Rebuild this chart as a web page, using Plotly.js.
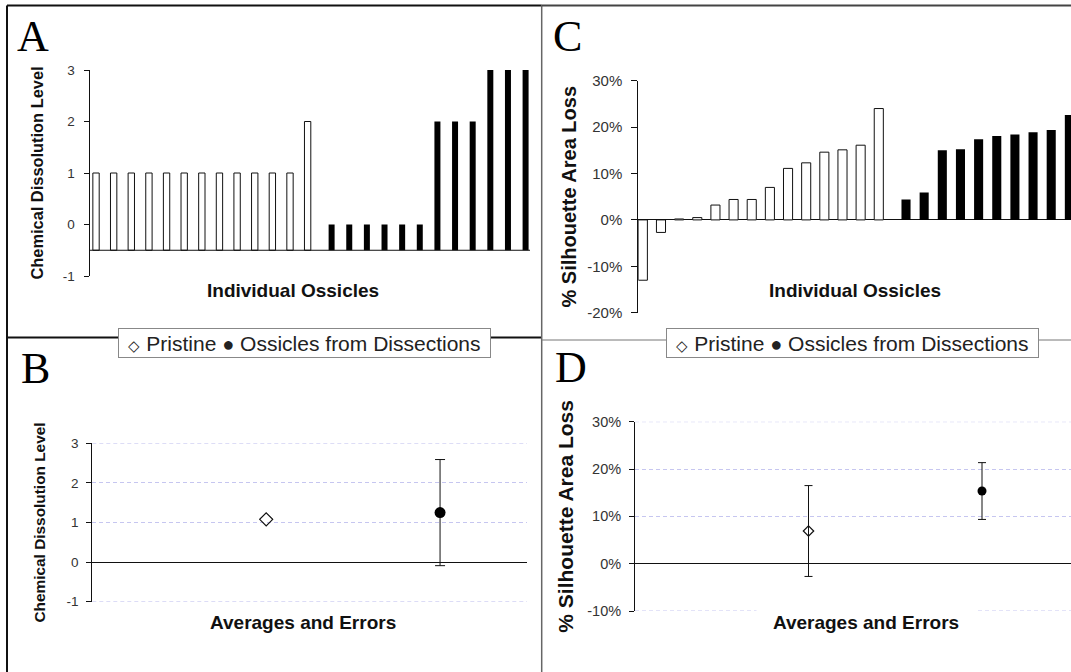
<!DOCTYPE html>
<html><head><meta charset="utf-8">
<script src="https://cdn.plot.ly/plotly-3.0.1.min.js"></script>
<style>html,body{margin:0;padding:0;background:#fff;overflow:hidden}#chart{width:1071px;height:672px}</style>
</head><body><div id="chart"></div>
<script>
// ---------- data ----------
const groupNames = ['Pristine', 'Ossicles from Dissections'];
const pristineLevels = [1,1,1,1,1,1,1,1,1,1,1,1,2];
const dissectionLevels = [0,0,0,0,0,0,2,2,2,3,3,3];
const pristineLoss = [-13.0,-2.7,0.2,0.5,3.2,4.4,4.4,7.0,11.1,12.3,14.6,15.1,16.1,24.0];
const dissectionLoss = [4.4,5.9,15.0,15.2,17.4,18.1,18.4,18.9,19.4,22.6];
const avgPosition = [1, 2];
const avgLevel = [1.08, 1.25];
const errLevel = [0, 1.34];
const avgLoss = [6.9, 15.35];
const errLoss = [9.6, 6.0];
const levelTicks = [-1, 0, 1, 2, 3];
const lossTicksC = [-20, -10, 0, 10, 20, 30];
const lossTicksD = [-10, 0, 10, 20, 30];
const LEVEL_BASELINE = -0.5;

// ---------- helpers ----------
const W = 1071, H = 672;
const px = v => v / W;
const py = v => 1 - v / H;
const SANS = 'Liberation Sans, Arial, Helvetica, sans-serif';
const SERIF = 'Liberation Serif, Times New Roman, serif';
const GRID = '#c6c6f0';
const GRID_DASH = '4px,3px';

const idxA_p = pristineLevels.map((_, i) => i + 1);
const idxA_d = dissectionLevels.map((_, i) => pristineLevels.length + i + 1);
const idxC_p = pristineLoss.map((_, i) => i + 1);
const idxC_d = dissectionLoss.map((_, i) => pristineLoss.length + i + 1);

const openBar = {color: '#ffffff', line: {color: '#111', width: 1}};
const solidBar = {color: '#000000', line: {color: '#000', width: 0}};

const traces = [
  // A
  {type: 'bar', name: groupNames[0], x: idxA_p, y: pristineLevels.map(v => v - LEVEL_BASELINE),
   base: LEVEL_BASELINE, width: 0.36, offset: -0.36, marker: openBar, xaxis: 'x', yaxis: 'y', showlegend: false},
  {type: 'bar', name: groupNames[1], x: idxA_d, y: dissectionLevels.map(v => v - LEVEL_BASELINE),
   base: LEVEL_BASELINE, width: 0.34, offset: 0.01, marker: solidBar, xaxis: 'x', yaxis: 'y', showlegend: false},
  // C
  {type: 'bar', name: groupNames[0], x: idxC_p, y: pristineLoss, width: 0.5, offset: -0.5,
   marker: openBar, xaxis: 'x2', yaxis: 'y2', showlegend: false},
  {type: 'bar', name: groupNames[1], x: idxC_d, y: dissectionLoss, width: 0.5, offset: 0,
   marker: solidBar, xaxis: 'x2', yaxis: 'y2', showlegend: false},
  // B
  {type: 'scatter', mode: 'markers', name: groupNames[0], x: [avgPosition[0]], y: [avgLevel[0]],
   marker: {symbol: 'diamond-open', size: 10, color: '#111', line: {width: 1.2}},
   xaxis: 'x3', yaxis: 'y3', showlegend: false},
  {type: 'scatter', mode: 'markers', name: groupNames[1], x: [avgPosition[1]], y: [avgLevel[1]],
   error_y: {type: 'data', array: [errLevel[1]], color: '#111', thickness: 1, width: 5},
   marker: {symbol: 'circle', size: 11, color: '#000'},
   xaxis: 'x3', yaxis: 'y3', showlegend: false},
  // D
  {type: 'scatter', mode: 'markers', name: groupNames[0], x: [avgPosition[0]], y: [avgLoss[0]],
   error_y: {type: 'data', array: [errLoss[0]], color: '#111', thickness: 1, width: 4},
   marker: {symbol: 'diamond-open', size: 8, color: '#111', line: {width: 1.2}},
   xaxis: 'x4', yaxis: 'y4', showlegend: false},
  {type: 'scatter', mode: 'markers', name: groupNames[1], x: [avgPosition[1]], y: [avgLoss[1]],
   error_y: {type: 'data', array: [errLoss[1]], color: '#111', thickness: 1, width: 4},
   marker: {symbol: 'circle', size: 9, color: '#000'},
   xaxis: 'x4', yaxis: 'y4', showlegend: false}
];

const hiddenX = (dom, rng, anchor) => ({domain: dom, range: rng, anchor: anchor, showline: false,
  showticklabels: false, ticks: '', zeroline: false, showgrid: false, fixedrange: true});

const yBase = (dom, rng, anchor, tickvals, ticktext, tfs, tlen, tstand, title, tsize, standoff) => ({
  domain: dom, range: rng, anchor: anchor, tickvals: tickvals, ticktext: ticktext,
  showline: true, linecolor: '#111', linewidth: 1, ticks: 'outside', ticklen: tlen, tickcolor: '#111',
  tickfont: {family: SANS, size: tfs, color: '#333'}, ticklabelstandoff: tstand,
  showgrid: false, zeroline: false, fixedrange: true,
  title: {text: title, font: {family: SANS, size: tsize, color: '#111', weight: 'bold'}, standoff: standoff}
});

const yA = yBase([py(276), py(70)], [-1, 3], 'x', levelTicks, levelTicks.map(String), 13.5, 5, 6,
  'Chemical Dissolution Level', 16.4, 15);
const yC = yBase([py(312.7), py(80.7)], [-20, 30], 'x2', lossTicksC, lossTicksC.map(v => v + '%'), 15, 6, 6,
  '% Silhouette Area Loss', 20, 5);
yC.zeroline = true; yC.zerolinecolor = '#111'; yC.zerolinewidth = 1;
const yB = yBase([py(601.7), py(443.3)], [-1, 3], 'x3', levelTicks, levelTicks.map(String), 13.5, 5, 5,
  'Chemical Dissolution Level', 15.4, 17);
const yD = yBase([py(611), py(421.7)], [-10, 30], 'x4', lossTicksD, lossTicksD.map(v => v + '%'), 14.5, 5, 5,
  '% Silhouette Area Loss', 21, 7);
[yB, yD].forEach(a => {
  a.showgrid = true; a.gridcolor = GRID; a.griddash = GRID_DASH; a.gridwidth = 1;
  a.zeroline = true; a.zerolinecolor = '#111'; a.zerolinewidth = 1;
});

const line = (x0, y0, x1, y1, color, width) => ({type: 'line', xref: 'paper', yref: 'paper',
  x0: px(x0), y0: py(y0), x1: px(x1), y1: py(y1), line: {color: color, width: width}});
// gridlines at the range ends (Plotly omits those)
const edgeGrid = (xa, ya, v) => ({type: 'line', xref: xa + ' domain', yref: ya, x0: 0, x1: 1, y0: v, y1: v,
  layer: 'below', line: {color: GRID, width: 1, dash: GRID_DASH}});

const shapes = [
  {type: 'line', xref: 'x domain', yref: 'y', x0: 0, x1: 1, y0: LEVEL_BASELINE, y1: LEVEL_BASELINE,
   line: {color: '#111', width: 1}},
  edgeGrid('x3', 'y3', levelTicks[0]), edgeGrid('x3', 'y3', levelTicks[levelTicks.length - 1]),
  edgeGrid('x4', 'y4', lossTicksD[0]), edgeGrid('x4', 'y4', lossTicksD[lossTicksD.length - 1]),
  line(7, 5.5, 7, 672, '#111', 2),
  line(7, 5.5, 541.7, 5.5, '#111', 2),
  line(7, 337.5, 541.7, 337.5, '#111', 2),
  line(541.7, 5, 541.7, 672, '#666', 1.5),
  line(541.7, 5.5, 1071, 5.5, '#444', 2),
  line(541.7, 340, 1071, 340, '#777', 1)
];

const letter = (t, x, yc) => ({text: t, xref: 'paper', yref: 'paper', x: px(x), y: py(yc),
  xanchor: 'left', yanchor: 'middle', showarrow: false, borderpad: 0,
  font: {family: SERIF, size: 44, color: '#000'}});
const xTitle = (t, xc, yc, w) => {
  const a = {text: t, xref: 'paper', yref: 'paper', x: px(xc), y: py(yc), xanchor: 'center', yanchor: 'middle',
    showarrow: false, bgcolor: 'rgba(255,255,255,1)', borderpad: 4,
    font: {family: SANS, size: 19, color: '#111', weight: 'bold'}};
  if (w) a.width = w;
  return a;
};
const legendText = '<span style="font-size:15px">◇</span> ' + groupNames[0] +
  ' <span style="font-size:20px">●</span> ' + groupNames[1];
const legendBox = (xc, yc) => ({text: legendText, xref: 'paper', yref: 'paper', x: px(xc), y: py(yc),
  xanchor: 'center', yanchor: 'middle', showarrow: false, width: 371, height: 28, borderpad: 0,
  bordercolor: '#888', borderwidth: 1, bgcolor: '#ffffff', align: 'center',
  font: {family: SANS, size: 21, color: '#222'}});

const annotations = [
  letter('A', 16, 36.6), letter('B', 20, 368.1), letter('C', 552.3, 36.2), letter('D', 553.5, 367.9),
  xTitle('Individual Ossicles', 293, 290.4),
  xTitle('Individual Ossicles', 854.5, 290.4),
  xTitle('Averages and Errors', 303, 622.5),
  xTitle('Averages and Errors', 866, 622.5, 210),
  legendBox(304.5, 343), legendBox(852.75, 343)
];

const layout = {
  width: W, height: H, margin: {l: 0, r: 0, t: 0, b: 0}, paper_bgcolor: '#fff', plot_bgcolor: 'rgba(0,0,0,0)',
  showlegend: false, font: {family: SANS, color: '#222'},
  xaxis: hiddenX([px(89.5), px(530)], [0.45, 25.43], 'y'),
  yaxis: yA,
  xaxis2: hiddenX([px(638.3), 1], [0.5, 24.34], 'y2'),
  yaxis2: yC,
  xaxis3: hiddenX([px(92.3), px(527)], [0, 2.5], 'y3'),
  yaxis3: yB,
  xaxis4: hiddenX([px(635), 1], [0, 2.513], 'y4'),
  yaxis4: yD,
  shapes: shapes,
  annotations: annotations
};

Plotly.newPlot('chart', traces, layout, {staticPlot: true, displayModeBar: false});
</script></body></html>
